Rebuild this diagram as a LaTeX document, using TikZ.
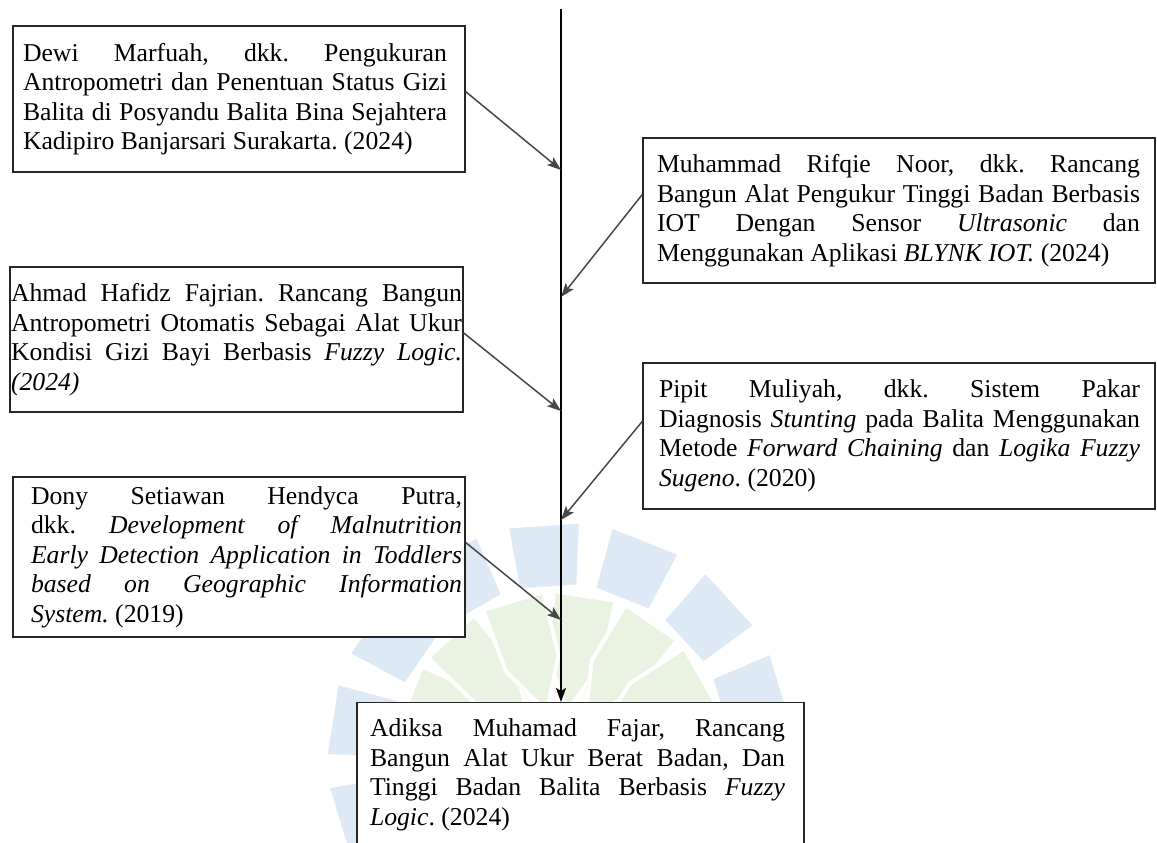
\documentclass[tikz,border=0pt]{standalone}
\usepackage{fontspec}
\setmainfont{Liberation Serif}
\usetikzlibrary{arrows.meta,calc}
\setlength{\parindent}{0pt}
\frenchspacing
\newlength\LS \newlength\W \newlength\B
\newcommand\bx[3]{\setlength\LS{#1}\setlength\W{#2}\setlength\B{#3}}
\newcommand\jl[1]{\hbox to \B{\hskip\LS\hbox to \W{\spaceskip=0.25em plus 1fil\relax #1}\hss}}
\newcommand\lastl[1]{\hbox to \B{\hskip\LS #1\hss}}
\definecolor{wmblue}{RGB}{221,234,246}
\definecolor{wmgreen}{RGB}{234,243,225}
\definecolor{wmorange}{RGB}{253,237,210}
\tikzset{
  refbox/.style={draw=black!85, line width=1.3pt, fill=white, inner sep=0pt,
    font=\fontsize{25.7}{29.5}\selectfont},
  link/.style={draw=black!72, line width=1.5pt, -{Stealth[length=14pt,width=10pt,inset=3pt]}},
  spine/.style={draw=black, line width=1.7pt, -{Stealth[length=14pt,width=10pt,inset=3pt]}},
  wmb/.style={fill=wmblue, draw=white, line width=3pt},
  wmg/.style={fill=wmgreen, draw=white, line width=4pt},
  wmo/.style={fill=wmorange}
}
\begin{document}
\begin{tikzpicture}[x=1pt,y=-1pt]
\useasboundingbox (0,0) rectangle (1157,843);
\clip (0,0) rectangle (1157,843);
% watermark
\coordinate (wm) at (560,755);
\foreach \k in {0,...,13}{
  \pgfmathsetmacro\a{266+\k*25.714}
  \pgfmathsetmacro\g{266+12.857+\k*25.714}
  \filldraw[wmb] ($(wm)+(\a-10:170)$) -- ($(wm)+(\a+10:170)$) -- ($(wm)+(\a+9:234)$) -- ($(wm)+(\a-9:234)$) -- cycle;
  \filldraw[wmg] ($(wm)+(\g:45)$) -- ($(wm)+(\g-16:100)$) -- ($(wm)+(\g-11:164)$) -- ($(wm)+(\g+11:164)$) -- ($(wm)+(\g+16:100)$) -- cycle;
  \fill[wmo] ($(wm)+(\a-5:10)$) -- ($(wm)+(\a:85)$) -- ($(wm)+(\a+5:10)$) -- cycle;
}
% boxes
\node[refbox, minimum width=452pt, minimum height=146pt] (b1) at (239,99) {\bx{10pt}{424pt}{452pt}\vbox{%
\jl{Dewi Marfuah, dkk. Pengukuran}
\jl{Antropometri dan Penentuan Status Gizi}
\jl{Balita di Posyandu Balita Bina Sejahtera}
\lastl{Kadipiro Banjarsari Surakarta. (2024)}}};
\node[refbox, minimum width=512pt, minimum height=145pt] (b2) at (899,210.5) {\bx{14pt}{483pt}{512pt}\vbox{%
\jl{Muhammad Rifqie Noor, dkk. Rancang}
\jl{Bangun Alat Pengukur Tinggi Badan Berbasis}
\jl{IOT Dengan Sensor \textit{Ultrasonic} dan}
\lastl{Menggunakan Aplikasi \textit{BLYNK IOT.} (2024)}}};
\node[refbox, minimum width=453pt, minimum height=145pt] (b3) at (236.5,339.5) {\bx{1pt}{451pt}{453pt}\vbox{%
\jl{Ahmad Hafidz Fajrian. Rancang Bangun}
\jl{Antropometri Otomatis Sebagai Alat Ukur}
\jl{Kondisi Gizi Bayi Berbasis \textit{Fuzzy Logic.}}
\lastl{\textit{(2024)}}}};
\node[refbox, minimum width=512pt, minimum height=146pt] (b4) at (899,436) {\bx{16pt}{481pt}{512pt}\vbox{%
\jl{Pipit Muliyah, dkk. Sistem Pakar}
\jl{Diagnosis \textit{Stunting} pada Balita Menggunakan}
\jl{Metode \textit{Forward Chaining} dan \textit{Logika Fuzzy}}
\lastl{\textit{Sugeno}. (2020)}}};
\node[refbox, minimum width=452pt, minimum height=160pt] (b5) at (239,557) {\bx{18pt}{431pt}{452pt}\vbox{%
\jl{Dony Setiawan Hendyca Putra,}
\jl{dkk. \textit{Development of Malnutrition}}
\jl{\textit{Early Detection Application in Toddlers}}
\jl{\textit{based on Geographic Information}}
\lastl{\textit{System.} (2019)}}};
\node[refbox, anchor=north, minimum width=447pt, minimum height=144pt] (res) at (580.5,702) {\bx{13pt}{415pt}{447pt}\vbox{%
\jl{Adiksa Muhamad Fajar, Rancang}
\jl{Bangun Alat Ukur Berat Badan, Dan}
\jl{Tinggi Badan Balita Berbasis \textit{Fuzzy}}
\lastl{\textit{Logic}. (2024)}}};
% spine
\coordinate (top) at (561,9);
\coordinate (t1) at (561,170);
\coordinate (t2) at (561,297);
\coordinate (t3) at (561,411);
\coordinate (t4) at (561,520);
\coordinate (t5) at (561,620);
\draw[spine] (top) -- (top |- res.north);
% links
\draw[link] ($(b1.north east)!0.45!(b1.south east)$) -- (t1);
\draw[link] ($(b2.north west)!0.39!(b2.south west)$) -- (t2);
\draw[link] ($(b3.north east)!0.455!(b3.south east)$) -- (t3);
\draw[link] ($(b4.north west)!0.40!(b4.south west)$) -- (t4);
\draw[link] ($(b5.north east)!0.41!(b5.south east)$) -- (t5);
\end{tikzpicture}
\end{document}
